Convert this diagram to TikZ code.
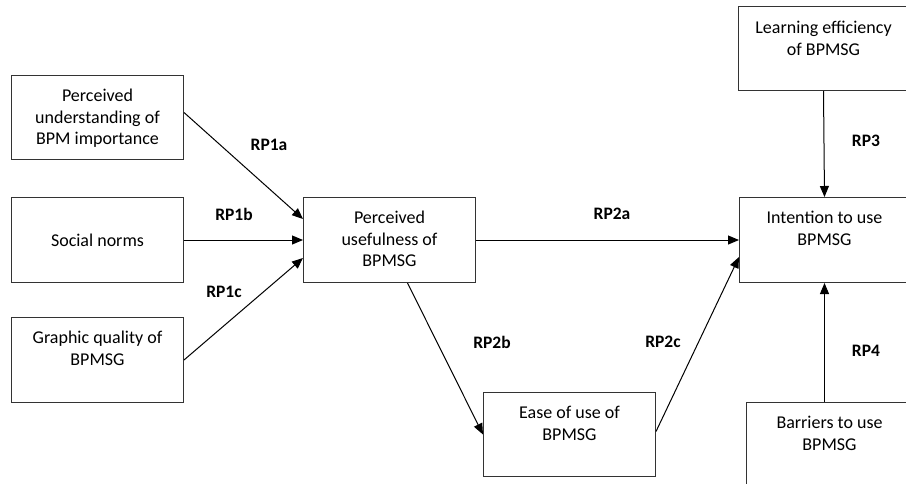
\documentclass[tikz,border=0pt]{standalone}
\usepackage{fontspec}
\setmainfont{Carlito}
\usetikzlibrary{arrows.meta}
\begin{document}
\begin{tikzpicture}[x=1pt,y=-1pt,
  box/.style={draw=black!80, line width=1pt, rectangle, inner sep=0pt, minimum width=#1},
  box/.default=172pt,
  txt/.style={align=center, inner sep=0pt, font=\fontsize{18}{21.5}\selectfont},
  rp/.style={font=\fontsize{17.5}{21.5}\selectfont\bfseries, inner sep=0pt},
  arr/.style={line width=1pt, -{Triangle[length=11pt,width=9pt]}}
]
\useasboundingbox (0,0) rectangle (906,483);
\clip (0,0) rectangle (906,483);
% boxes (x,y = top-left in px, y down)
\node[box, minimum height=84pt, anchor=north west] (pu1) at (11,75) {};
\node[box, minimum height=85pt, anchor=north west] (sn) at (11,197) {};
\node[box, minimum height=85pt, anchor=north west] (gq) at (11,317) {};
\node[box, minimum height=85pt, anchor=north west] (pu) at (303,197) {};
\node[box, minimum height=84pt, anchor=north west] (eu) at (483,392) {};
\node[box=170pt, minimum height=84pt, anchor=north west] (le) at (738,6) {};
\node[box=170pt, minimum height=85pt, anchor=north west] (iu) at (739,197) {};
\node[box=170pt, minimum height=100pt, anchor=north west] (bu) at (746,402) {};
% texts
\node[txt, anchor=north] (t1) at ([yshift=-14pt]pu1.north) {Perceived\\understanding of\\BPM importance};
\node[txt] (t2) at (sn.center) {Social norms};
\node[txt, anchor=north] (t3) at ([yshift=-14pt]gq.north) {Graphic quality of\\BPMSG};
\node[txt, anchor=north] (t4) at ([yshift=-14pt]pu.north) {Perceived\\usefulness of\\BPMSG};
\node[txt, anchor=north] (t5) at ([yshift=-14pt]eu.north) {Ease of use of\\BPMSG};
\node[txt, anchor=north] (t6) at ([yshift=-15pt]le.north) {Learning efficiency\\of BPMSG};
\node[txt, anchor=north] (t7) at ([yshift=-14pt]iu.north) {Intention to use\\BPMSG};
\node[txt, anchor=north] (t8) at ([xshift=-2pt,yshift=-14pt]bu.north) {Barriers to use\\BPMSG};
% arrows
\draw[arr] ([yshift=5pt]pu1.east) -- ([yshift=21pt]pu.west);
\draw[arr] (sn.east) -- (pu.west);
\draw[arr] (gq.east) -- ([yshift=-18pt]pu.west);
\draw[arr] (pu.east) -- (iu.west);
\draw[arr] ([xshift=18pt]pu.south) -- (eu.west);
\draw[arr] ([yshift=3pt]eu.east) -- ([yshift=-17pt]iu.west);
\draw[arr] (le.south) -- (iu.north);
\coordinate (bt) at (bu.north -| iu.south);
\draw[arr] (bt) -- (iu.south);
% labels
\node[rp] (l1) at (269,145) {RP1a};
\node[rp] (l2) at (234,214) {RP1b};
\node[rp] (l3) at (224,292) {RP1c};
\node[rp] (l4) at (612,214) {RP2a};
\node[rp] (l5) at (492,342) {RP2b};
\node[rp] (l6) at (663,342) {RP2c};
\node[rp] (l7) at (866,141) {RP3};
\node[rp] (l8) at (866,351) {RP4};
\end{tikzpicture}
\end{document}
